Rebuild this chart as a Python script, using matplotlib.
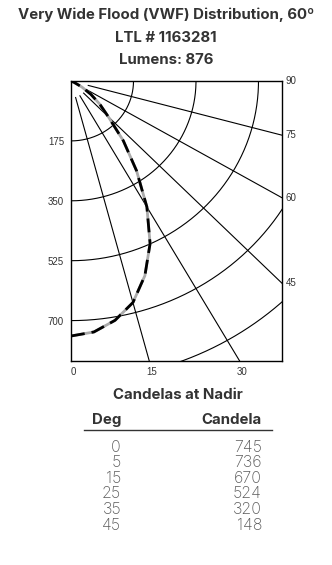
import numpy as np
import matplotlib.pyplot as plt
from matplotlib.lines import Line2D

# header text
title_lines = ['Very Wide Flood (VWF) Distribution, 60º', 'LTL # 1163281', 'Lumens: 876']
table_title = 'Candelas at Nadir'

# candela table at nadir
table_deg = [0, 5, 15, 25, 35, 45]
table_cd = [745, 736, 670, 524, 320, 148]

# polar curve (degrees from nadir, candela)
curve_deg = [0, 5, 10, 15, 20, 25, 30, 35, 40, 45, 50, 55, 60, 65, 70, 90]
curve_cd = [745, 736, 710, 670, 605, 524, 425, 320, 228, 148, 105, 68, 35, 10, 0, 0]

# grid
ring_cd = [175, 350, 525, 700, 875]
spoke_deg = [15, 30, 45, 60, 75]
left_labels = [175, 350, 525, 700]
right_labels = [90, 75, 60, 45]
bottom_labels = [0, 15, 30]

W, H = 332, 565
x_max, y_max = 590, 818

TXT = '#333333'
NUM = '#5a5a5a'
HEAD_FONT = ['Inter', 'DejaVu Sans']
AX_FONT = ['Liberation Sans', 'DejaVu Sans']


def fx(x):
    return x / W


def fy(y):
    return 1 - y / H


fig = plt.figure(figsize=(W / 100, H / 100), dpi=100)

for i, line in enumerate(title_lines):
    fig.text(0.5, fy(15 + 22.5 * i), line, ha='center', va='center',
             fontsize=10.8, fontweight='bold', color=TXT, family=HEAD_FONT)

ax = fig.add_axes([fx(71), fy(361), fx(210.7), 280 / H])
ax.set_xlim(0, x_max)
ax.set_ylim(-y_max, 0)

phi = np.linspace(0, np.pi / 2, 300)
for r in ring_cd:
    ax.plot(r * np.sin(phi), -r * np.cos(phi), color='k', lw=0.8)

for d in spoke_deg:
    t = np.radians(d)
    r = np.array([50, 3000])
    ax.plot(r * np.sin(t), -r * np.cos(t), color='k', lw=0.8)

t = np.radians(curve_deg)
cd = np.array(curve_cd)
ax.plot(cd * np.sin(t), -cd * np.cos(t), color='#aaaaaa', lw=2.0,
        solid_capstyle='butt', solid_joinstyle='round')
ax.plot(cd * np.sin(t), -cd * np.cos(t), color='k', lw=2.0,
        dashes=(5, 2.5), dash_joinstyle='round')

for s in ax.spines.values():
    s.set_linewidth(1.0)
    s.set_color('k')

ax.set_xticks([])
ax.set_yticks([-v for v in left_labels])
ax.set_yticklabels([str(v) for v in left_labels], family=AX_FONT,
                   fontsize=7, color=TXT)
ax.tick_params(axis='y', length=0, pad=5)

for d in right_labels:
    y = 0 if d == 90 else -x_max / np.tan(np.radians(d))
    ax.annotate(str(d), xy=(x_max, y), xytext=(3, 0),
                textcoords='offset points', ha='left', va='center',
                fontsize=7, color=TXT, family=AX_FONT, annotation_clip=False)

for d in bottom_labels:
    x = y_max * np.tan(np.radians(d))
    ax.annotate(str(d), xy=(x, -y_max), xytext=(2, -4),
                textcoords='offset points', ha='center', va='top',
                fontsize=7, color=TXT, family=AX_FONT, annotation_clip=False)

# candela table
fig.text(fx(178), fy(395), table_title, ha='center', va='center',
         fontsize=10.8, fontweight='bold', color=TXT, family=HEAD_FONT)
fig.text(fx(121), fy(420), 'Deg', ha='right', va='center',
         fontsize=10.8, fontweight='bold', color=TXT, family=HEAD_FONT)
fig.text(fx(262), fy(420), 'Candela', ha='right', va='center',
         fontsize=10.8, fontweight='bold', color=TXT, family=HEAD_FONT)
fig.add_artist(Line2D([fx(84), fx(272)], [fy(430), fy(430)],
                      transform=fig.transFigure, color=TXT, lw=1.0))

for i, (d, c) in enumerate(zip(table_deg, table_cd)):
    y = fy(447 + 15.6 * i)
    fig.text(fx(121), y, str(d), ha='right', va='center', fontsize=11.5,
             fontweight='light', color=NUM, family=HEAD_FONT)
    fig.text(fx(262), y, str(c), ha='right', va='center', fontsize=11.5,
             fontweight='light', color=NUM, family=HEAD_FONT)

fig.savefig('out.png', dpi=100)
